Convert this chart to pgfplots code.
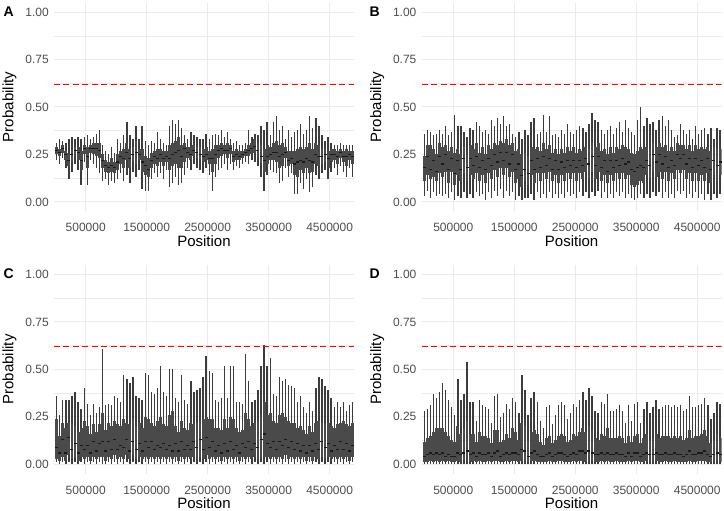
\documentclass[border=0pt]{standalone}
\usepackage{pgfplots}
\pgfplotsset{compat=1.18}
\usepackage{pgfplotstable}
\usepackage{fontspec}
\setmainfont{Liberation Sans}
\definecolor{gridc}{HTML}{EBEBEB}
\definecolor{tickc}{HTML}{4D4D4D}
\definecolor{whisk}{HTML}{3C3C3C}
\definecolor{boxc}{HTML}{4A4A4A}
\definecolor{medc}{HTML}{1A1A1A}
\definecolor{redc}{HTML}{FF0000}

\pgfplotstableread{
x lw q1 med q3 uw
25000 0.22 0.25 0.27 0.29 0.31
75000 0.20 0.24 0.26 0.28 0.33
125000 0.23 0.26 0.28 0.30 0.32
175000 0.18 0.22 0.25 0.27 0.31
225000 0.12 0.19 0.22 0.26 0.33
275000 0.16 0.21 0.25 0.28 0.34
325000 0.20 0.24 0.27 0.29 0.33
375000 0.17 0.22 0.26 0.29 0.34
425000 0.09 0.17 0.22 0.27 0.33
475000 0.21 0.25 0.28 0.30 0.34
525000 0.09 0.18 0.24 0.29 0.35
575000 0.22 0.26 0.28 0.30 0.33
625000 0.20 0.25 0.28 0.31 0.34
675000 0.18 0.24 0.28 0.31 0.36
725000 0.15 0.23 0.27 0.31 0.38
775000 0.11 0.18 0.22 0.25 0.30
825000 0.12 0.16 0.19 0.22 0.27
875000 0.09 0.15 0.18 0.21 0.25
925000 0.11 0.16 0.19 0.23 0.29
975000 0.10 0.15 0.18 0.21 0.26
1025000 0.12 0.17 0.21 0.25 0.33
1075000 0.15 0.20 0.24 0.27 0.31
1125000 0.11 0.18 0.23 0.28 0.35
1175000 0.14 0.22 0.26 0.31 0.42
1225000 0.10 0.18 0.23 0.28 0.35
1275000 0.16 0.21 0.25 0.29 0.33
1325000 0.13 0.20 0.26 0.32 0.40
1375000 0.17 0.22 0.25 0.28 0.33
1425000 0.07 0.16 0.21 0.28 0.40
1475000 0.06 0.14 0.19 0.24 0.32
1525000 0.06 0.13 0.17 0.23 0.30
1575000 0.12 0.18 0.22 0.26 0.32
1625000 0.15 0.20 0.24 0.27 0.31
1675000 0.13 0.19 0.23 0.28 0.37
1725000 0.15 0.21 0.25 0.28 0.33
1775000 0.12 0.19 0.23 0.27 0.31
1825000 0.17 0.21 0.24 0.27 0.30
1875000 0.08 0.17 0.23 0.30 0.40
1925000 0.10 0.19 0.25 0.31 0.43
1975000 0.13 0.20 0.26 0.32 0.41
2025000 0.09 0.18 0.27 0.34 0.43
2075000 0.10 0.18 0.24 0.30 0.39
2125000 0.14 0.21 0.28 0.31 0.35
2175000 0.18 0.23 0.26 0.29 0.33
2225000 0.17 0.22 0.25 0.29 0.37
2275000 0.20 0.24 0.27 0.30 0.35
2325000 0.18 0.23 0.26 0.29 0.34
2375000 0.17 0.22 0.25 0.29 0.33
2425000 0.15 0.21 0.24 0.28 0.33
2475000 0.18 0.22 0.25 0.29 0.36
2525000 0.14 0.20 0.23 0.27 0.33
2575000 0.06 0.16 0.23 0.28 0.35
2625000 0.13 0.20 0.25 0.30 0.36
2675000 0.17 0.23 0.27 0.30 0.35
2725000 0.18 0.24 0.28 0.31 0.38
2775000 0.20 0.25 0.27 0.30 0.34
2825000 0.17 0.23 0.27 0.31 0.37
2875000 0.20 0.25 0.28 0.30 0.33
2925000 0.17 0.21 0.24 0.27 0.31
2975000 0.19 0.22 0.25 0.28 0.32
3025000 0.18 0.22 0.24 0.27 0.30
3075000 0.20 0.23 0.25 0.27 0.30
3125000 0.21 0.24 0.26 0.28 0.31
3175000 0.20 0.24 0.27 0.30 0.38
3225000 0.22 0.25 0.28 0.31 0.34
3275000 0.21 0.26 0.29 0.33 0.36
3325000 0.19 0.24 0.27 0.31 0.35
3375000 0.13 0.20 0.24 0.30 0.40
3425000 0.06 0.16 0.22 0.28 0.38
3475000 0.14 0.20 0.24 0.30 0.42
3525000 0.17 0.22 0.25 0.29 0.35
3575000 0.16 0.22 0.26 0.31 0.42
3625000 0.15 0.21 0.26 0.32 0.45
3675000 0.10 0.18 0.24 0.30 0.38
3725000 0.11 0.19 0.25 0.31 0.40
3775000 0.18 0.23 0.26 0.29 0.33
3825000 0.13 0.19 0.22 0.27 0.38
3875000 0.15 0.20 0.23 0.27 0.34
3925000 0.04 0.14 0.20 0.27 0.37
3975000 0.04 0.13 0.21 0.28 0.38
4025000 0.10 0.17 0.22 0.29 0.41
4075000 0.07 0.15 0.21 0.28 0.36
4125000 0.12 0.18 0.23 0.29 0.38
4175000 0.05 0.15 0.22 0.31 0.45
4225000 0.08 0.16 0.21 0.28 0.39
4275000 0.14 0.20 0.25 0.31 0.44
4325000 0.12 0.19 0.24 0.30 0.40
4375000 0.15 0.20 0.24 0.28 0.35
4425000 0.17 0.21 0.25 0.28 0.32
4475000 0.12 0.18 0.23 0.27 0.34
4525000 0.16 0.21 0.25 0.28 0.31
4575000 0.18 0.22 0.25 0.28 0.30
4625000 0.14 0.20 0.24 0.27 0.30
4675000 0.19 0.23 0.26 0.28 0.31
4725000 0.16 0.21 0.24 0.27 0.30
4775000 0.13 0.19 0.24 0.28 0.30
4825000 0.18 0.22 0.25 0.27 0.30
4875000 0.13 0.20 0.24 0.27 0.30
}\tA

\pgfplotstableread{
x lw q1 med q3 uw
25000 0.03 0.11 0.18 0.24 0.36
75000 0.06 0.14 0.24 0.30 0.38
125000 0.02 0.12 0.17 0.30 0.37
175000 0.05 0.13 0.22 0.28 0.35
225000 0.03 0.11 0.16 0.25 0.36
275000 0.04 0.15 0.24 0.31 0.38
325000 0.03 0.13 0.20 0.29 0.36
375000 0.04 0.16 0.25 0.30 0.40
425000 0.02 0.10 0.17 0.27 0.35
475000 0.05 0.16 0.23 0.29 0.37
525000 0.01 0.09 0.15 0.26 0.46
575000 0.03 0.14 0.22 0.28 0.40
625000 0.02 0.11 0.17 0.25 0.40
675000 0.05 0.15 0.23 0.29 0.37
725000 0.02 0.11 0.18 0.25 0.34
775000 0.04 0.14 0.23 0.30 0.39
825000 0.02 0.12 0.19 0.28 0.38
875000 0.05 0.15 0.24 0.31 0.42
925000 0.03 0.11 0.18 0.26 0.40
975000 0.04 0.14 0.22 0.29 0.37
1025000 0.01 0.10 0.17 0.25 0.38
1075000 0.05 0.15 0.23 0.30 0.36
1125000 0.02 0.12 0.19 0.28 0.43
1175000 0.06 0.17 0.25 0.31 0.40
1225000 0.03 0.13 0.21 0.30 0.44
1275000 0.07 0.18 0.26 0.32 0.41
1325000 0.02 0.14 0.22 0.31 0.45
1375000 0.06 0.18 0.26 0.33 0.40
1425000 0.03 0.13 0.20 0.30 0.41
1475000 0.05 0.16 0.25 0.31 0.36
1525000 0.01 0.10 0.17 0.27 0.34
1575000 0.03 0.12 0.20 0.28 0.37
1625000 0.01 0.08 0.14 0.25 0.33
1675000 0.02 0.11 0.17 0.26 0.38
1725000 0.02 0.09 0.15 0.24 0.35
1775000 0.04 0.14 0.22 0.29 0.42
1825000 0.01 0.10 0.17 0.28 0.44
1875000 0.05 0.15 0.23 0.29 0.36
1925000 0.02 0.11 0.18 0.27 0.37
1975000 0.04 0.15 0.24 0.31 0.46
2025000 0.02 0.12 0.19 0.28 0.37
2075000 0.05 0.16 0.23 0.30 0.45
2125000 0.02 0.11 0.17 0.26 0.35
2175000 0.04 0.14 0.22 0.28 0.36
2225000 0.02 0.10 0.17 0.25 0.34
2275000 0.04 0.14 0.21 0.28 0.38
2325000 0.02 0.11 0.18 0.26 0.36
2375000 0.05 0.15 0.22 0.29 0.41
2425000 0.03 0.12 0.19 0.27 0.37
2475000 0.04 0.15 0.22 0.29 0.36
2525000 0.02 0.11 0.18 0.26 0.38
2575000 0.05 0.15 0.22 0.28 0.40
2625000 0.03 0.12 0.19 0.27 0.39
2675000 0.05 0.16 0.23 0.29 0.37
2725000 0.02 0.12 0.20 0.28 0.41
2775000 0.05 0.16 0.24 0.31 0.47
2825000 0.03 0.12 0.19 0.29 0.43
2875000 0.06 0.16 0.24 0.31 0.42
2925000 0.02 0.11 0.18 0.27 0.38
2975000 0.05 0.14 0.22 0.28 0.36
3025000 0.02 0.10 0.16 0.25 0.38
3075000 0.04 0.14 0.22 0.29 0.40
3125000 0.02 0.11 0.18 0.26 0.36
3175000 0.05 0.15 0.22 0.29 0.39
3225000 0.03 0.12 0.19 0.28 0.42
3275000 0.05 0.15 0.23 0.30 0.37
3325000 0.02 0.12 0.20 0.29 0.43
3375000 0.04 0.14 0.21 0.28 0.39
3425000 0.02 0.09 0.17 0.26 0.37
3475000 0.01 0.08 0.16 0.25 0.35
3525000 0.02 0.09 0.18 0.27 0.43
3575000 0.04 0.11 0.19 0.29 0.50
3625000 0.02 0.10 0.18 0.28 0.40
3675000 0.04 0.14 0.22 0.29 0.44
3725000 0.02 0.12 0.19 0.28 0.41
3775000 0.05 0.16 0.25 0.31 0.42
3825000 0.03 0.13 0.21 0.29 0.38
3875000 0.05 0.16 0.25 0.31 0.43
3925000 0.02 0.12 0.20 0.29 0.45
3975000 0.05 0.16 0.24 0.30 0.40
4025000 0.02 0.11 0.18 0.27 0.43
4075000 0.04 0.15 0.22 0.29 0.38
4125000 0.02 0.12 0.19 0.27 0.34
4175000 0.06 0.17 0.25 0.31 0.35
4225000 0.04 0.15 0.23 0.30 0.41
4275000 0.06 0.17 0.25 0.30 0.38
4325000 0.02 0.12 0.20 0.28 0.36
4375000 0.04 0.15 0.23 0.30 0.38
4425000 0.02 0.11 0.18 0.27 0.33
4475000 0.05 0.15 0.23 0.30 0.40
4525000 0.02 0.11 0.19 0.28 0.36
4575000 0.04 0.14 0.22 0.29 0.38
4625000 0.01 0.11 0.18 0.28 0.39
4675000 0.04 0.15 0.23 0.29 0.36
4725000 0.01 0.10 0.17 0.27 0.39
4775000 0.04 0.14 0.22 0.29 0.33
4825000 0.02 0.11 0.19 0.28 0.39
4875000 0.04 0.14 0.21 0.28 0.38
}\tB

\pgfplotstableread{
x lw q1 med q3 uw
25000 0.01 0.03 0.09 0.24 0.36
75000 0.00 0.02 0.06 0.15 0.26
125000 0.01 0.04 0.13 0.22 0.34
175000 0.00 0.02 0.06 0.19 0.34
225000 0.01 0.05 0.14 0.22 0.34
275000 0.00 0.03 0.08 0.21 0.36
325000 0.01 0.04 0.11 0.20 0.38
375000 0.00 0.02 0.06 0.17 0.33
425000 0.01 0.04 0.10 0.19 0.29
475000 0.00 0.03 0.08 0.23 0.40
525000 0.01 0.04 0.10 0.20 0.32
575000 0.00 0.02 0.06 0.16 0.26
625000 0.01 0.04 0.12 0.21 0.32
675000 0.00 0.03 0.07 0.17 0.27
725000 0.01 0.04 0.11 0.21 0.30
775000 0.00 0.04 0.12 0.27 0.61
825000 0.00 0.02 0.07 0.18 0.31
875000 0.01 0.04 0.12 0.22 0.32
925000 0.00 0.03 0.08 0.20 0.31
975000 0.01 0.05 0.13 0.23 0.36
1025000 0.00 0.03 0.08 0.21 0.35
1075000 0.01 0.04 0.10 0.20 0.33
1125000 0.00 0.03 0.09 0.24 0.47
1175000 0.01 0.05 0.13 0.22 0.45
1225000 0.00 0.03 0.07 0.21 0.43
1275000 0.01 0.05 0.12 0.24 0.46
1325000 0.00 0.03 0.08 0.20 0.36
1375000 0.01 0.04 0.11 0.22 0.35
1425000 0.00 0.03 0.07 0.19 0.34
1475000 0.01 0.04 0.12 0.25 0.48
1525000 0.00 0.03 0.09 0.24 0.47
1575000 0.01 0.04 0.12 0.22 0.38
1625000 0.00 0.03 0.08 0.20 0.37
1675000 0.01 0.04 0.10 0.23 0.40
1725000 0.00 0.03 0.09 0.25 0.52
1775000 0.01 0.04 0.11 0.21 0.38
1825000 0.00 0.03 0.08 0.20 0.36
1875000 0.01 0.04 0.10 0.26 0.50
1925000 0.00 0.03 0.07 0.28 0.50
1975000 0.01 0.04 0.11 0.20 0.35
2025000 0.00 0.02 0.07 0.17 0.33
2075000 0.01 0.04 0.12 0.23 0.47
2125000 0.00 0.03 0.08 0.19 0.34
2175000 0.01 0.04 0.10 0.18 0.32
2225000 0.00 0.03 0.08 0.22 0.44
2275000 0.01 0.04 0.12 0.21 0.38
2325000 0.00 0.03 0.09 0.22 0.39
2375000 0.01 0.04 0.13 0.23 0.40
2425000 0.00 0.03 0.08 0.24 0.46
2475000 0.01 0.05 0.14 0.25 0.57
2525000 0.00 0.03 0.09 0.24 0.49
2575000 0.01 0.04 0.12 0.24 0.48
2625000 0.00 0.03 0.07 0.19 0.34
2675000 0.01 0.04 0.10 0.19 0.33
2725000 0.00 0.02 0.06 0.18 0.35
2775000 0.01 0.04 0.11 0.24 0.52
2825000 0.00 0.03 0.07 0.19 0.35
2875000 0.01 0.04 0.12 0.25 0.52
2925000 0.00 0.03 0.08 0.24 0.52
2975000 0.01 0.04 0.10 0.19 0.33
3025000 0.00 0.02 0.06 0.17 0.33
3075000 0.01 0.04 0.11 0.18 0.32
3125000 0.00 0.03 0.09 0.27 0.58
3175000 0.01 0.04 0.12 0.24 0.44
3225000 0.00 0.03 0.08 0.20 0.33
3275000 0.01 0.04 0.11 0.22 0.34
3325000 0.00 0.03 0.09 0.23 0.39
3375000 0.01 0.04 0.13 0.26 0.52
3425000 0.00 0.04 0.16 0.33 0.63
3475000 0.01 0.04 0.11 0.26 0.52
3525000 0.00 0.03 0.09 0.27 0.56
3575000 0.01 0.04 0.12 0.23 0.37
3625000 0.00 0.03 0.08 0.22 0.36
3675000 0.01 0.04 0.12 0.26 0.46
3725000 0.00 0.03 0.10 0.27 0.44
3775000 0.01 0.05 0.13 0.25 0.45
3825000 0.00 0.03 0.09 0.23 0.42
3875000 0.01 0.04 0.12 0.22 0.41
3925000 0.00 0.03 0.08 0.22 0.40
3975000 0.01 0.04 0.11 0.19 0.33
4025000 0.00 0.03 0.07 0.20 0.36
4075000 0.01 0.04 0.10 0.18 0.30
4125000 0.00 0.02 0.06 0.16 0.27
4175000 0.01 0.04 0.10 0.20 0.33
4225000 0.00 0.02 0.07 0.17 0.28
4275000 0.01 0.04 0.11 0.22 0.40
4325000 0.00 0.03 0.08 0.23 0.46
4375000 0.01 0.04 0.12 0.22 0.45
4425000 0.00 0.03 0.09 0.21 0.41
4475000 0.01 0.04 0.11 0.22 0.39
4525000 0.00 0.03 0.07 0.20 0.35
4575000 0.01 0.04 0.10 0.19 0.30
4625000 0.00 0.03 0.08 0.21 0.33
4675000 0.01 0.04 0.12 0.22 0.30
4725000 0.00 0.03 0.08 0.23 0.33
4775000 0.01 0.04 0.11 0.21 0.28
4825000 0.00 0.02 0.07 0.20 0.31
4875000 0.01 0.04 0.10 0.22 0.33
}\tC

\pgfplotstableread{
x lw q1 med q3 uw
25000 0.00 0.01 0.04 0.12 0.28
75000 0.00 0.01 0.05 0.14 0.29
125000 0.00 0.02 0.06 0.15 0.31
175000 0.00 0.01 0.05 0.17 0.37
225000 0.00 0.02 0.06 0.19 0.35
275000 0.00 0.01 0.05 0.19 0.38
325000 0.00 0.02 0.06 0.19 0.43
375000 0.00 0.01 0.04 0.17 0.39
425000 0.00 0.02 0.05 0.15 0.34
475000 0.00 0.01 0.04 0.13 0.30
525000 0.00 0.01 0.04 0.12 0.26
575000 0.00 0.02 0.06 0.20 0.45
625000 0.00 0.01 0.05 0.16 0.34
675000 0.00 0.02 0.06 0.19 0.37
725000 0.00 0.02 0.07 0.23 0.54
775000 0.00 0.01 0.05 0.16 0.33
825000 0.00 0.02 0.06 0.16 0.33
875000 0.00 0.01 0.04 0.12 0.23
925000 0.00 0.02 0.06 0.17 0.34
975000 0.00 0.01 0.05 0.15 0.31
1025000 0.00 0.01 0.05 0.15 0.30
1075000 0.00 0.02 0.06 0.14 0.29
1125000 0.00 0.01 0.04 0.11 0.22
1175000 0.00 0.02 0.06 0.18 0.36
1225000 0.00 0.02 0.07 0.18 0.37
1275000 0.00 0.01 0.04 0.12 0.25
1325000 0.00 0.01 0.05 0.13 0.27
1375000 0.00 0.02 0.06 0.16 0.32
1425000 0.00 0.01 0.05 0.14 0.29
1475000 0.00 0.02 0.06 0.19 0.35
1525000 0.00 0.02 0.06 0.17 0.33
1575000 0.00 0.01 0.05 0.13 0.27
1625000 0.00 0.02 0.08 0.22 0.47
1675000 0.00 0.02 0.07 0.20 0.39
1725000 0.00 0.01 0.04 0.13 0.26
1775000 0.00 0.02 0.06 0.17 0.35
1825000 0.00 0.02 0.07 0.18 0.38
1875000 0.00 0.01 0.05 0.16 0.33
1925000 0.00 0.01 0.04 0.12 0.23
1975000 0.00 0.01 0.04 0.10 0.19
2025000 0.00 0.01 0.05 0.14 0.30
2075000 0.00 0.02 0.06 0.15 0.31
2125000 0.00 0.01 0.04 0.11 0.21
2175000 0.00 0.01 0.05 0.13 0.26
2225000 0.00 0.02 0.06 0.15 0.31
2275000 0.00 0.02 0.06 0.16 0.33
2325000 0.00 0.01 0.05 0.15 0.31
2375000 0.00 0.01 0.04 0.12 0.24
2425000 0.00 0.01 0.05 0.13 0.27
2475000 0.00 0.02 0.06 0.16 0.32
2525000 0.00 0.01 0.05 0.15 0.30
2575000 0.00 0.02 0.07 0.17 0.34
2625000 0.00 0.02 0.07 0.19 0.38
2675000 0.00 0.01 0.06 0.17 0.34
2725000 0.00 0.02 0.07 0.20 0.40
2775000 0.00 0.02 0.06 0.18 0.36
2825000 0.00 0.01 0.05 0.14 0.28
2875000 0.00 0.01 0.05 0.13 0.27
2925000 0.00 0.02 0.06 0.16 0.33
2975000 0.00 0.01 0.05 0.15 0.32
3025000 0.00 0.02 0.06 0.19 0.37
3075000 0.00 0.01 0.05 0.14 0.28
3125000 0.00 0.01 0.05 0.14 0.28
3175000 0.00 0.02 0.06 0.14 0.29
3225000 0.00 0.01 0.05 0.15 0.31
3275000 0.00 0.01 0.05 0.14 0.28
3325000 0.00 0.01 0.04 0.11 0.22
3375000 0.00 0.02 0.06 0.15 0.31
3425000 0.00 0.01 0.04 0.12 0.23
3475000 0.00 0.02 0.06 0.15 0.32
3525000 0.00 0.02 0.06 0.16 0.33
3575000 0.00 0.01 0.04 0.11 0.22
3625000 0.00 0.01 0.05 0.14 0.29
3675000 0.00 0.02 0.06 0.16 0.33
3725000 0.00 0.01 0.05 0.13 0.27
3775000 0.00 0.01 0.05 0.14 0.30
3825000 0.00 0.02 0.06 0.16 0.34
3875000 0.00 0.01 0.05 0.14 0.29
3925000 0.00 0.01 0.05 0.15 0.30
3975000 0.00 0.02 0.06 0.15 0.31
4025000 0.00 0.01 0.05 0.15 0.31
4075000 0.00 0.01 0.05 0.14 0.30
4125000 0.00 0.02 0.06 0.15 0.31
4175000 0.00 0.01 0.05 0.14 0.30
4225000 0.00 0.01 0.05 0.15 0.31
4275000 0.00 0.01 0.04 0.13 0.28
4325000 0.00 0.01 0.05 0.14 0.29
4375000 0.00 0.02 0.07 0.18 0.36
4425000 0.00 0.01 0.05 0.14 0.30
4475000 0.00 0.01 0.05 0.15 0.30
4525000 0.00 0.02 0.06 0.15 0.31
4575000 0.00 0.02 0.06 0.16 0.32
4625000 0.00 0.02 0.07 0.18 0.35
4675000 0.00 0.01 0.05 0.15 0.31
4725000 0.00 0.01 0.04 0.11 0.24
4775000 0.00 0.01 0.05 0.13 0.27
4825000 0.00 0.02 0.06 0.16 0.33
4875000 0.00 0.01 0.05 0.14 0.32
}\tD

\pgfplotsset{
  panel/.style={
    scale only axis, width=300pt, height=208.8pt,
    xmin=-20000, xmax=4900000, ymin=-0.05, ymax=1.05,
    scaled x ticks=false, scaled y ticks=false,
    axis line style={draw=none},
    major tick length=0pt, minor tick length=0pt,
    xtick={500000,1500000,2500000,3500000,4500000},
    xticklabels={500000,1500000,2500000,3500000,4500000},
    ytick={0,0.25,0.5,0.75,1},
    yticklabels={0.00,0.25,0.50,0.75,1.00},
    minor ytick={0.125,0.375,0.625,0.875},
    grid=both,
    major grid style={draw=gridc, line width=1pt},
    minor grid style={draw=gridc, line width=0.5pt},
    tick label style={font=\fontsize{12}{13}\selectfont, text=tickc},
    xticklabel style={anchor=north, inner sep=0pt, yshift=-12pt},
    yticklabel style={anchor=east, inner sep=0pt, xshift=-5pt},
    xlabel={Position}, ylabel={Probability},
    label style={font=\fontsize{15}{16}\selectfont, text=black},
    xlabel style={at={(axis description cs:0.5,-0.114)}, anchor=north, inner sep=0pt},
    ylabel style={at={(axis description cs:-0.124,0.5)}, anchor=south, inner sep=0pt},
  },
  whiskers/.style={draw=none, mark=none, forget plot,
    error bars/.cd, y dir=both, y explicit, error mark=none,
    error bar style={draw=whisk, line width=1.3pt, solid}},
  boxes/.style={draw=none, mark=none, forget plot,
    error bars/.cd, y dir=both, y explicit, error mark=none,
    error bar style={draw=boxc, line width=2.9pt, solid}},
  medians/.style={only marks, mark=-, mark size=1.5pt, forget plot,
    mark options={draw=medc, line width=1.2pt, solid}},
  thresh/.style={draw=redc, line width=1.3pt, dash pattern=on 6pt off 3.5pt, mark=none, forget plot},
}

\newcommand{\panelplots}[1]{%
  \addplot[whiskers] table[x=x, y=med, y error plus expr=\thisrow{uw}-\thisrow{med}, y error minus expr=\thisrow{med}-\thisrow{lw}] {#1};
  \addplot[boxes] table[x=x, y=med, y error plus expr=\thisrow{q3}-\thisrow{med}, y error minus expr=\thisrow{med}-\thisrow{q1}] {#1};
  \addplot[medians] table[x=x, y=med] {#1};
  \addplot[thresh] coordinates {(-20000,0.62) (4900000,0.62)};
}

\begin{document}
\begin{tikzpicture}
\path[use as bounding box] (0,0) rectangle (724pt,511pt);
\begin{axis}[panel, at={(54pt,299.6pt)}, anchor=south west]
\panelplots{\tA}
\end{axis}
\begin{axis}[panel, at={(421.6pt,299.6pt)}, anchor=south west]
\panelplots{\tB}
\end{axis}
\begin{axis}[panel, at={(54pt,37.2pt)}, anchor=south west]
\panelplots{\tC}
\end{axis}
\begin{axis}[panel, at={(421.6pt,37.2pt)}, anchor=south west]
\panelplots{\tD}
\end{axis}
\node[anchor=base west, inner sep=0pt, font=\fontsize{14}{16}\selectfont\bfseries] at (3.3pt,494.3pt) {A};
\node[anchor=base west, inner sep=0pt, font=\fontsize{14}{16}\selectfont\bfseries] at (369.3pt,494.3pt) {B};
\node[anchor=base west, inner sep=0pt, font=\fontsize{14}{16}\selectfont\bfseries] at (3.3pt,232.7pt) {C};
\node[anchor=base west, inner sep=0pt, font=\fontsize{14}{16}\selectfont\bfseries] at (369.3pt,232.7pt) {D};
\end{tikzpicture}
\end{document}
